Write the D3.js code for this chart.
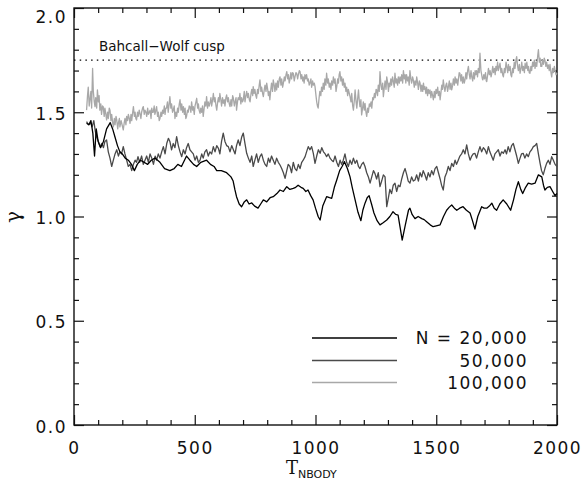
<!DOCTYPE html>
<html>
<head>
<meta charset="utf-8">
<script src="https://cdn.jsdelivr.net/npm/d3@7"></script>
<style>
  html, body { margin: 0; padding: 0; background: #fff; }
  svg { display: block; }
</style>
</head>
<body>
<svg id="chart" width="582" height="485"></svg>
<script>
// gamma vs T_NBODY, three particle numbers
const n20k = [[52,1.447],[62,1.44],[70,1.46],[78,1.40],[85,1.29],[92,1.42],[100,1.36],[110,1.33],[122,1.36],[135,1.42],[150,1.45],[160,1.42],[170,1.38],[180,1.34],[190,1.31],[200,1.30],[212,1.28],[225,1.27],[238,1.25],[250,1.22],[262,1.25],[275,1.27],[290,1.26],[305,1.25],[320,1.27],[335,1.28],[356,1.26],[375,1.23],[397,1.22],[415,1.23],[430,1.25],[445,1.24],[466,1.29],[480,1.27],[495,1.25],[508,1.24],[525,1.26],[549,1.27],[565,1.25],[580,1.24],[591,1.22],[610,1.22],[632,1.21],[650,1.19],[659,1.17],[666,1.13],[673,1.095],[684,1.06],[694,1.047],[705,1.07],[715,1.08],[725,1.06],[736,1.065],[748,1.05],[762,1.04],[773,1.06],[784,1.08],[798,1.07],[812,1.09],[825,1.095],[840,1.11],[853,1.127],[867,1.12],[881,1.143],[894,1.13],[908,1.135],[918,1.14],[928,1.15],[940,1.14],[949,1.135],[960,1.12],[969,1.127],[980,1.1],[990,1.08],[1000,1.04],[1011,1.0],[1019,0.983],[1030,1.05],[1046,1.095],[1058,1.09],[1067,1.087],[1078,1.14],[1088,1.175],[1100,1.22],[1110,1.24],[1120,1.263],[1132,1.23],[1143,1.19],[1152,1.14],[1164,1.08],[1176,1.02],[1188,0.98],[1196,1.03],[1205,1.064],[1214,1.09],[1222,1.10],[1232,1.06],[1242,1.017],[1255,0.98],[1267,0.96],[1280,0.97],[1295,0.983],[1308,1.00],[1321,1.023],[1332,1.01],[1342,1.007],[1350,0.95],[1359,0.887],[1372,0.96],[1385,1.03],[1391,1.04],[1400,1.01],[1412,0.99],[1425,1.0],[1440,0.99],[1450,0.985],[1460,0.975],[1475,0.96],[1487,0.951],[1500,0.955],[1516,0.96],[1530,1.0],[1543,1.03],[1554,1.045],[1564,1.055],[1575,1.04],[1585,1.03],[1597,1.04],[1611,1.047],[1625,1.03],[1640,1.017],[1650,0.98],[1660,0.94],[1672,1.0],[1688,1.047],[1698,1.04],[1709,1.04],[1720,1.05],[1730,1.064],[1740,1.04],[1750,1.03],[1763,1.06],[1777,1.08],[1792,1.06],[1808,1.03],[1820,1.08],[1830,1.13],[1840,1.167],[1850,1.13],[1858,1.11],[1870,1.14],[1881,1.16],[1895,1.155],[1909,1.16],[1916,1.18],[1923,1.2],[1930,1.195],[1937,1.19],[1944,1.15],[1950,1.127],[1960,1.14],[1971,1.143],[1982,1.12],[1992,1.10],[2000,1.11]];

const n50k = [[52,1.455],[60,1.44],[68,1.45],[75,1.43],[82,1.46],[88,1.41],[94,1.38],[101,1.36],[108,1.335],[115,1.35],[122,1.33],[128,1.36],[135,1.367],[142,1.31],[149,1.28],[156,1.24],[163,1.27],[170,1.30],[177,1.32],[184,1.29],[190,1.31],[197,1.30],[204,1.335],[211,1.30],[218,1.27],[225,1.24],[232,1.25],[239,1.22],[246,1.25],[253,1.27],[259,1.26],[265,1.287],[272,1.26],[280,1.29],[287,1.25],[294,1.27],[301,1.29],[308,1.26],[315,1.30],[322,1.28],[329,1.25],[336,1.29],[342,1.27],[349,1.30],[356,1.28],[363,1.31],[370,1.335],[377,1.30],[384,1.35],[391,1.375],[397,1.36],[404,1.32],[411,1.35],[418,1.33],[425,1.383],[432,1.34],[439,1.31],[446,1.287],[453,1.32],[460,1.30],[466,1.33],[473,1.35],[480,1.32],[487,1.31],[494,1.30],[501,1.27],[508,1.29],[515,1.26],[522,1.27],[529,1.30],[535,1.28],[542,1.31],[549,1.32],[556,1.29],[563,1.31],[570,1.30],[577,1.335],[584,1.31],[591,1.34],[598,1.327],[604,1.30],[611,1.36],[618,1.40],[625,1.36],[632,1.34],[639,1.335],[646,1.31],[653,1.34],[660,1.32],[667,1.30],[673,1.34],[680,1.367],[687,1.34],[694,1.38],[701,1.40],[708,1.35],[715,1.303],[722,1.28],[729,1.26],[736,1.29],[742,1.24],[749,1.27],[756,1.30],[763,1.26],[770,1.287],[777,1.30],[784,1.27],[791,1.25],[798,1.24],[805,1.28],[811,1.26],[818,1.29],[825,1.27],[832,1.25],[839,1.28],[846,1.26],[853,1.247],[860,1.23],[867,1.21],[874,1.183],[881,1.22],[887,1.25],[894,1.24],[901,1.21],[908,1.26],[915,1.23],[922,1.22],[929,1.25],[936,1.23],[943,1.26],[949,1.27],[957,1.287],[963,1.31],[970,1.335],[977,1.32],[984,1.335],[991,1.303],[998,1.255],[1005,1.29],[1012,1.32],[1019,1.303],[1026,1.33],[1033,1.31],[1040,1.30],[1046,1.287],[1053,1.30],[1060,1.28],[1067,1.27],[1074,1.263],[1081,1.29],[1088,1.26],[1095,1.24],[1102,1.27],[1108,1.25],[1115,1.27],[1122,1.30],[1129,1.26],[1136,1.24],[1143,1.27],[1150,1.25],[1157,1.28],[1164,1.255],[1171,1.27],[1178,1.24],[1184,1.23],[1191,1.25],[1198,1.26],[1205,1.24],[1212,1.21],[1219,1.19],[1226,1.16],[1233,1.19],[1240,1.22],[1246,1.207],[1253,1.18],[1260,1.21],[1267,1.143],[1274,1.17],[1281,1.20],[1288,1.19],[1295,1.047],[1302,1.09],[1308,1.13],[1315,1.11],[1322,1.15],[1329,1.16],[1336,1.12],[1343,1.15],[1350,1.143],[1357,1.18],[1364,1.21],[1371,1.23],[1378,1.20],[1384,1.17],[1391,1.16],[1398,1.19],[1405,1.17],[1412,1.175],[1419,1.20],[1426,1.17],[1433,1.21],[1440,1.19],[1446,1.22],[1453,1.20],[1460,1.175],[1467,1.21],[1474,1.19],[1481,1.22],[1488,1.20],[1495,1.23],[1502,1.24],[1509,1.21],[1516,1.18],[1522,1.15],[1529,1.127],[1536,1.19],[1543,1.21],[1550,1.24],[1557,1.22],[1564,1.255],[1571,1.24],[1578,1.27],[1584,1.25],[1591,1.27],[1598,1.29],[1605,1.30],[1612,1.32],[1619,1.30],[1626,1.343],[1633,1.30],[1640,1.27],[1647,1.29],[1653,1.30],[1660,1.303],[1667,1.28],[1674,1.31],[1681,1.335],[1688,1.31],[1695,1.33],[1702,1.32],[1709,1.30],[1716,1.335],[1722,1.31],[1729,1.29],[1736,1.27],[1743,1.30],[1750,1.31],[1757,1.32],[1764,1.29],[1771,1.31],[1778,1.303],[1785,1.32],[1791,1.30],[1798,1.335],[1805,1.31],[1812,1.34],[1819,1.35],[1826,1.32],[1833,1.29],[1840,1.255],[1847,1.28],[1853,1.30],[1860,1.303],[1867,1.28],[1874,1.30],[1881,1.287],[1888,1.31],[1895,1.32],[1902,1.335],[1909,1.34],[1916,1.35],[1923,1.30],[1930,1.255],[1936,1.22],[1943,1.20],[1950,1.23],[1957,1.255],[1964,1.27],[1971,1.25],[1978,1.287],[1985,1.27],[1992,1.25],[2000,1.24]];

const n100k = [[52,1.51],[56,1.58],[59,1.62],[63,1.53],[66,1.56],[70,1.60],[73,1.52],[77,1.71],[80,1.60],[84,1.55],[87,1.527],[90,1.57],[94,1.52],[97,1.607],[101,1.55],[104,1.58],[107,1.51],[111,1.54],[114,1.49],[118,1.53],[121,1.527],[125,1.48],[128,1.52],[132,1.49],[135,1.463],[139,1.50],[142,1.47],[146,1.52],[149,1.51],[153,1.46],[156,1.49],[160,1.45],[163,1.43],[167,1.47],[170,1.44],[174,1.48],[177,1.463],[181,1.42],[184,1.45],[188,1.47],[190,1.43],[195,1.46],[199,1.44],[204,1.415],[208,1.45],[211,1.47],[215,1.44],[218,1.48],[222,1.46],[225,1.49],[229,1.47],[232,1.447],[236,1.49],[239,1.46],[243,1.50],[246,1.527],[250,1.48],[253,1.50],[256,1.47],[259,1.463],[263,1.50],[266,1.48],[270,1.51],[273,1.495],[277,1.47],[280,1.50],[284,1.52],[287,1.527],[291,1.49],[294,1.51],[298,1.50],[301,1.48],[305,1.52],[308,1.49],[312,1.50],[315,1.51],[319,1.47],[322,1.52],[325,1.50],[328,1.50],[332,1.53],[335,1.49],[339,1.51],[342,1.527],[346,1.48],[349,1.50],[353,1.46],[356,1.47],[360,1.50],[363,1.48],[367,1.51],[370,1.495],[374,1.53],[377,1.49],[380,1.52],[383,1.52],[387,1.55],[390,1.50],[394,1.54],[397,1.575],[401,1.52],[404,1.54],[408,1.50],[411,1.51],[415,1.53],[418,1.47],[422,1.50],[425,1.48],[429,1.52],[432,1.50],[436,1.54],[439,1.56],[443,1.51],[446,1.54],[450,1.50],[453,1.527],[457,1.49],[460,1.52],[463,1.47],[466,1.48],[470,1.51],[473,1.50],[477,1.53],[480,1.527],[484,1.50],[487,1.55],[491,1.51],[494,1.527],[498,1.49],[501,1.53],[505,1.55],[508,1.567],[512,1.52],[515,1.54],[518,1.51],[522,1.495],[525,1.52],[529,1.50],[532,1.53],[535,1.48],[539,1.52],[542,1.55],[546,1.53],[549,1.575],[553,1.52],[556,1.55],[560,1.53],[563,1.543],[567,1.57],[570,1.53],[574,1.56],[577,1.59],[581,1.55],[584,1.57],[588,1.53],[591,1.51],[595,1.55],[598,1.57],[601,1.55],[604,1.59],[608,1.56],[611,1.53],[615,1.57],[618,1.543],[622,1.56],[625,1.53],[629,1.57],[632,1.583],[636,1.55],[639,1.57],[643,1.54],[646,1.527],[650,1.56],[653,1.53],[657,1.58],[660,1.567],[664,1.53],[667,1.55],[671,1.57],[673,1.51],[677,1.55],[680,1.57],[684,1.56],[687,1.59],[691,1.54],[694,1.57],[698,1.55],[701,1.56],[705,1.60],[708,1.55],[712,1.58],[715,1.60],[719,1.57],[722,1.59],[726,1.56],[729,1.55],[733,1.59],[736,1.61],[740,1.58],[742,1.623],[746,1.59],[749,1.61],[753,1.58],[756,1.567],[760,1.61],[763,1.59],[767,1.63],[770,1.655],[774,1.60],[777,1.62],[781,1.59],[784,1.575],[788,1.61],[791,1.63],[795,1.60],[798,1.64],[802,1.61],[805,1.58],[808,1.60],[811,1.56],[815,1.61],[818,1.64],[822,1.60],[825,1.655],[829,1.63],[832,1.60],[836,1.64],[839,1.607],[843,1.65],[846,1.62],[850,1.66],[853,1.67],[857,1.63],[860,1.66],[864,1.62],[867,1.64],[871,1.67],[874,1.65],[878,1.68],[881,1.695],[885,1.66],[888,1.68],[891,1.64],[894,1.655],[898,1.69],[901,1.66],[905,1.69],[908,1.687],[912,1.65],[915,1.67],[919,1.69],[922,1.687],[926,1.66],[929,1.68],[933,1.70],[936,1.695],[940,1.66],[943,1.68],[947,1.65],[949,1.67],[953,1.64],[956,1.68],[960,1.66],[963,1.68],[967,1.65],[970,1.66],[974,1.63],[977,1.64],[981,1.66],[984,1.62],[988,1.65],[991,1.63],[995,1.64],[998,1.623],[1002,1.58],[1005,1.55],[1008,1.53],[1011,1.52],[1015,1.57],[1018,1.60],[1022,1.58],[1025,1.62],[1029,1.60],[1032,1.64],[1036,1.61],[1039,1.66],[1043,1.63],[1046,1.687],[1050,1.64],[1053,1.66],[1057,1.62],[1060,1.64],[1064,1.61],[1067,1.65],[1071,1.63],[1074,1.67],[1078,1.64],[1081,1.66],[1085,1.60],[1088,1.623],[1092,1.66],[1095,1.64],[1098,1.68],[1101,1.695],[1105,1.65],[1108,1.67],[1112,1.63],[1115,1.66],[1119,1.62],[1122,1.64],[1126,1.60],[1129,1.62],[1133,1.58],[1136,1.61],[1140,1.59],[1143,1.575],[1147,1.55],[1150,1.59],[1154,1.53],[1157,1.51],[1161,1.56],[1164,1.607],[1168,1.55],[1171,1.52],[1175,1.57],[1178,1.607],[1181,1.56],[1184,1.527],[1188,1.56],[1191,1.487],[1195,1.52],[1198,1.55],[1202,1.51],[1205,1.543],[1209,1.50],[1212,1.48],[1216,1.52],[1219,1.50],[1223,1.54],[1226,1.527],[1230,1.55],[1233,1.52],[1237,1.57],[1240,1.56],[1244,1.59],[1247,1.57],[1251,1.61],[1253,1.607],[1257,1.58],[1260,1.63],[1264,1.60],[1267,1.695],[1271,1.63],[1274,1.61],[1278,1.64],[1281,1.575],[1285,1.62],[1288,1.65],[1292,1.61],[1295,1.67],[1299,1.64],[1302,1.60],[1305,1.64],[1308,1.623],[1312,1.66],[1315,1.63],[1319,1.67],[1322,1.65],[1326,1.62],[1329,1.687],[1333,1.64],[1336,1.66],[1340,1.63],[1343,1.67],[1347,1.64],[1350,1.67],[1354,1.65],[1357,1.68],[1361,1.64],[1364,1.70],[1368,1.66],[1371,1.68],[1374,1.64],[1377,1.68],[1381,1.65],[1384,1.67],[1388,1.63],[1391,1.70],[1395,1.66],[1398,1.64],[1402,1.67],[1405,1.655],[1409,1.62],[1412,1.65],[1416,1.63],[1419,1.67],[1423,1.64],[1426,1.61],[1430,1.65],[1433,1.64],[1437,1.60],[1440,1.63],[1444,1.60],[1447,1.64],[1450,1.61],[1453,1.623],[1457,1.59],[1460,1.62],[1464,1.58],[1467,1.61],[1471,1.59],[1474,1.607],[1478,1.57],[1481,1.60],[1485,1.58],[1488,1.56],[1492,1.60],[1495,1.57],[1499,1.61],[1502,1.59],[1506,1.62],[1509,1.58],[1513,1.60],[1516,1.56],[1520,1.60],[1523,1.63],[1526,1.61],[1529,1.655],[1533,1.62],[1536,1.60],[1540,1.63],[1543,1.64],[1547,1.60],[1550,1.62],[1554,1.65],[1557,1.61],[1561,1.64],[1564,1.607],[1568,1.63],[1571,1.66],[1575,1.63],[1578,1.67],[1582,1.64],[1585,1.66],[1589,1.63],[1592,1.66],[1595,1.69],[1598,1.687],[1602,1.65],[1605,1.68],[1609,1.64],[1612,1.67],[1616,1.64],[1619,1.655],[1623,1.69],[1626,1.66],[1630,1.70],[1633,1.72],[1637,1.68],[1640,1.66],[1644,1.70],[1647,1.67],[1651,1.65],[1654,1.69],[1658,1.66],[1661,1.70],[1664,1.68],[1667,1.70],[1671,1.67],[1674,1.71],[1678,1.69],[1681,1.783],[1685,1.70],[1688,1.68],[1691,1.66],[1693,1.655],[1697,1.68],[1700,1.66],[1704,1.69],[1707,1.65],[1709,1.647],[1713,1.68],[1716,1.71],[1720,1.68],[1723,1.70],[1727,1.67],[1730,1.687],[1734,1.72],[1737,1.69],[1741,1.71],[1744,1.68],[1747,1.72],[1750,1.70],[1754,1.74],[1757,1.70],[1761,1.72],[1764,1.735],[1768,1.69],[1771,1.71],[1775,1.68],[1778,1.67],[1782,1.71],[1785,1.69],[1789,1.74],[1792,1.72],[1796,1.69],[1799,1.73],[1802,1.70],[1806,1.72],[1809,1.68],[1812,1.67],[1816,1.71],[1819,1.69],[1823,1.74],[1826,1.71],[1830,1.75],[1833,1.767],[1837,1.72],[1840,1.70],[1844,1.73],[1847,1.687],[1851,1.71],[1854,1.74],[1858,1.70],[1861,1.72],[1865,1.69],[1868,1.735],[1872,1.71],[1875,1.74],[1879,1.70],[1882,1.72],[1885,1.69],[1888,1.687],[1892,1.72],[1895,1.70],[1899,1.74],[1902,1.72],[1906,1.75],[1909,1.71],[1913,1.74],[1916,1.72],[1920,1.77],[1923,1.80],[1927,1.74],[1930,1.76],[1933,1.72],[1937,1.72],[1940,1.75],[1944,1.73],[1947,1.76],[1950,1.75],[1954,1.72],[1957,1.74],[1961,1.71],[1964,1.727],[1968,1.70],[1971,1.73],[1975,1.69],[1978,1.67],[1982,1.71],[1985,1.69],[1989,1.72],[1992,1.70],[1996,1.68],[2000,1.687]];

const seriesNames = ['N = 20,000', '50,000', '100,000'];
const seriesColors = ['#000000', '#4a4a4a', '#a8a8a8'];
const cuspGamma = 1.75;
const cuspLabel = 'Bahcall\u2212Wolf cusp';
const xMajor = [0, 500, 1000, 1500, 2000];
const yMajor = [0.0, 0.5, 1.0, 1.5, 2.0];

const svg = d3.select('#chart');
const m = { left: 74, right: 557, top: 8, bottom: 425 };

const x = d3.scaleLinear().domain([0, 2000]).range([m.left, m.right]);
const y = d3.scaleLinear().domain([0, 2]).range([m.bottom, m.top]);

const xMinor = d3.range(0, 2001, 100).filter(v => v % 500 !== 0);
const yMinor = d3.range(0, 21).map(v => v / 10).filter(v => Math.round(v * 10) % 5 !== 0);

const tickFont = "'DejaVu Sans', sans-serif";

function styleAxis(g) {
    g.select('.domain').remove();
    g.selectAll('line').attr('stroke', '#111').attr('stroke-width', 1.2);
    g.selectAll('text').attr('font-family', tickFont).attr('font-size', 17)
        .attr('letter-spacing', '1.5px').attr('fill', '#111');
}

// bottom axis, labelled
svg.append('g').attr('transform', `translate(0,${m.bottom})`)
    .call(d3.axisBottom(x).tickValues(xMajor).tickSize(-10).tickPadding(17).tickFormat(d3.format('d')))
    .call(styleAxis);
svg.append('g').attr('transform', `translate(0,${m.bottom})`)
    .call(d3.axisBottom(x).tickValues(xMinor).tickSize(-5).tickFormat(''))
    .call(styleAxis);
// top axis
svg.append('g').attr('transform', `translate(0,${m.top})`)
    .call(d3.axisTop(x).tickValues(xMajor).tickSize(-10).tickFormat(''))
    .call(styleAxis);
svg.append('g').attr('transform', `translate(0,${m.top})`)
    .call(d3.axisTop(x).tickValues(xMinor).tickSize(-5).tickFormat(''))
    .call(styleAxis);
// left axis, labelled
const yAx = svg.append('g').attr('transform', `translate(${m.left},0)`)
    .call(d3.axisLeft(y).tickValues(yMajor).tickSize(-10).tickPadding(7).tickFormat(d3.format('.1f')))
    .call(styleAxis);
yAx.selectAll('text').attr('dy', '0.42em');
yAx.selectAll('text').filter(d => d === 2.0).attr('dy', '0.85em');
svg.append('g').attr('transform', `translate(${m.left},0)`)
    .call(d3.axisLeft(y).tickValues(yMinor).tickSize(-5).tickFormat(''))
    .call(styleAxis);
// right axis
svg.append('g').attr('transform', `translate(${m.right},0)`)
    .call(d3.axisRight(y).tickValues(yMajor).tickSize(-10).tickFormat(''))
    .call(styleAxis);
svg.append('g').attr('transform', `translate(${m.right},0)`)
    .call(d3.axisRight(y).tickValues(yMinor).tickSize(-5).tickFormat(''))
    .call(styleAxis);

// frame
svg.append('rect')
    .attr('x', m.left).attr('y', m.top)
    .attr('width', m.right - m.left).attr('height', m.bottom - m.top)
    .attr('fill', 'none').attr('stroke', '#111').attr('stroke-width', 1.4);

// Bahcall-Wolf reference line
svg.append('line')
    .attr('x1', x(0)).attr('x2', x(2000))
    .attr('y1', y(cuspGamma)).attr('y2', y(cuspGamma))
    .attr('stroke', '#000').attr('stroke-width', 1.2)
    .attr('stroke-dasharray', '1.5,4.2');
svg.append('text')
    .attr('x', 99).attr('y', y(cuspGamma) - 9)
    .attr('font-family', tickFont).attr('font-size', 13.5)
    .attr('fill', '#111')
    .text(cuspLabel);

const line = d3.line().x(d => x(d[0])).y(d => y(d[1]));
const allSeries = [n20k, n50k, n100k];

// draw light one first so the dark ones sit on top
[2, 1, 0].forEach(i => {
    svg.append('path')
        .datum(allSeries[i])
        .attr('d', line)
        .attr('fill', 'none')
        .attr('stroke', seriesColors[i])
        .attr('stroke-width', 1.3)
        .attr('stroke-linejoin', 'round');
});

// legend
const legY = [338, 360.5, 382.5];
seriesNames.forEach((name, i) => {
    svg.append('line')
        .attr('x1', 312).attr('x2', 397)
        .attr('y1', legY[i]).attr('y2', legY[i])
        .attr('stroke', seriesColors[i]).attr('stroke-width', 1.3);
    svg.append('text')
        .attr('x', 528).attr('y', legY[i])
        .attr('dy', '0.36em')
        .attr('text-anchor', 'end')
        .attr('font-family', tickFont).attr('font-size', 17)
        .attr('letter-spacing', '1.5px')
        .attr('fill', '#111')
        .text(name);
});

// axis titles
const xt = svg.append('text')
    .attr('x', 286).attr('y', 474)
    .attr('font-family', "'DejaVu Serif', serif").attr('font-size', 18)
    .attr('fill', '#111');
xt.append('tspan').text('T');
xt.append('tspan').attr('dy', 4).attr('font-size', 11)
    .attr('font-family', tickFont).text('NBODY');

svg.append('text')
    .attr('transform', `translate(20,217) rotate(-90)`)
    .attr('text-anchor', 'middle')
    .attr('font-family', "'DejaVu Serif', serif").attr('font-size', 20)
    .attr('fill', '#111')
    .text('\u03b3');
</script>
</body>
</html>
